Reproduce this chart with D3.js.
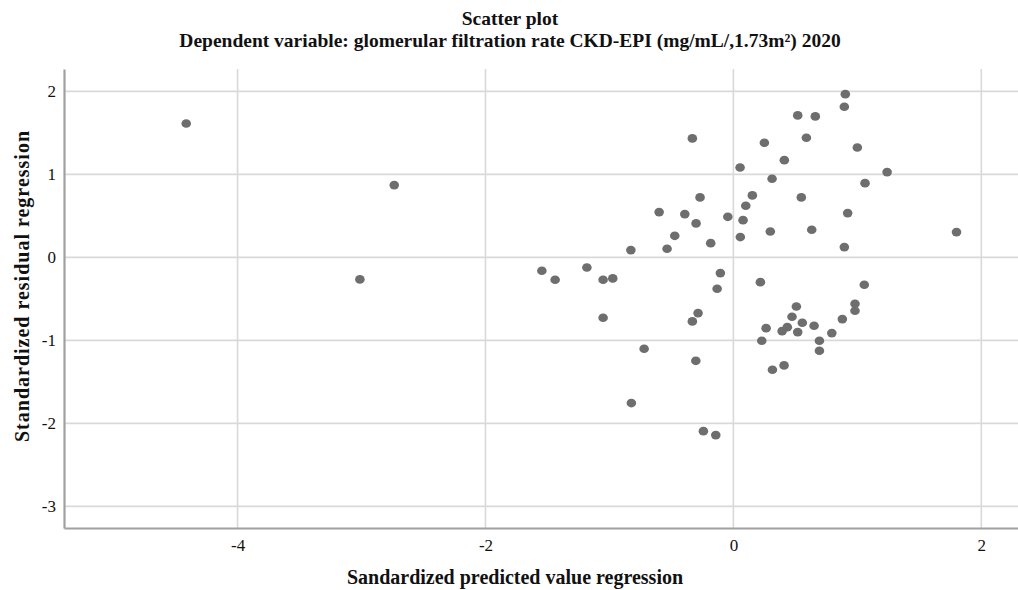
<!DOCTYPE html>
<html>
<head>
<meta charset="utf-8">
<script src="https://cdn.jsdelivr.net/npm/d3@7"></script>
<style>
  body { margin: 0; background: #fff; }
  text { font-family: "Liberation Serif", "DejaVu Serif", serif; fill: #111; }
</style>
</head>
<body>
<svg id="chart" width="1018" height="590"></svg>
<script>
// standardized predicted value (x) and standardized residual (y)
var predicted = [
  0.903, 0.895, 0.519, 0.661, -0.331, 0.250, 0.589, 1.000, 0.411, 0.054,
  1.240, 0.312, 1.062, -0.269, 0.548, 0.153, 0.100, -0.599, -0.392, 0.922,
  -0.045, 0.078, -0.301, -0.473, 0.056, 0.298, 0.632, -0.183, 0.895, -0.827,
  -0.535, 1.800,
  -1.545, -1.438, -1.182, -1.051, -0.973, -0.105, -0.131, 0.218, 1.056, -1.051,
  -0.285, -0.331, 0.508, 0.473, 0.981, 0.981, 0.879, 0.264, 0.393, 0.435,
  0.556, 0.519, 0.651, 0.794, 0.229, 0.694, 0.694, -0.720, -0.303, 0.315,
  0.409, -0.823, -0.242, -0.142,
  -4.414, -2.736, -3.013
];
var residual = [
  1.967, 1.815, 1.711, 1.699, 1.434, 1.381, 1.441, 1.325, 1.172, 1.084,
  1.028, 0.947, 0.895, 0.723, 0.723, 0.747, 0.622, 0.546, 0.522, 0.534,
  0.489, 0.449, 0.410, 0.260, 0.245, 0.313, 0.333, 0.172, 0.124, 0.088,
  0.104, 0.305,
  -0.161, -0.270, -0.121, -0.270, -0.253, -0.189, -0.378, -0.298, -0.330, -0.727,
  -0.671, -0.771, -0.591, -0.715, -0.559, -0.643, -0.743, -0.852, -0.888, -0.840,
  -0.788, -0.900, -0.824, -0.912, -1.004, -1.004, -1.125, -1.101, -1.246, -1.354,
  -1.301, -1.755, -2.093, -2.141,
  1.614, 0.871, -0.265
];
var xTicks = [-4, -2, 0, 2];
var yTicks = [2, 1, 0, -1, -2, -3];

var titleLines = ['Scatter plot',
  'Dependent variable: glomerular filtration rate CKD-EPI (mg/mL/,1.73m\u00b2) 2020'];
var xTitle = 'Sandardized predicted value regression';
var yTitle = 'Standardized residual regression';

var svg = d3.select('#chart');
var mLeft = 64, mRight = 1018, mTop = 69, mBottom = 528;

var x = d3.scaleLinear().domain([-5.4, 2.296]).range([mLeft, mRight]);
var y = d3.scaleLinear().domain([2.27, -3.26]).range([mTop, mBottom]);

// grid
svg.append('g').selectAll('line').data(xTicks).enter().append('line')
  .attr('x1', function(d) { return x(d); }).attr('x2', function(d) { return x(d); })
  .attr('y1', mTop).attr('y2', mBottom)
  .attr('stroke', '#d9d9d9').attr('stroke-width', 1.6);
svg.append('g').selectAll('line').data(yTicks).enter().append('line')
  .attr('x1', mLeft).attr('x2', mRight)
  .attr('y1', function(d) { return y(d); }).attr('y2', function(d) { return y(d); })
  .attr('stroke', '#d9d9d9').attr('stroke-width', 1.6);

// axes
var xAxis = svg.append('g').attr('transform', 'translate(0,' + mBottom + ')')
  .call(d3.axisBottom(x).tickValues(xTicks).tickSize(0).tickPadding(11));
var yAxis = svg.append('g').attr('transform', 'translate(' + mLeft + ',0)')
  .call(d3.axisLeft(y).tickValues(yTicks).tickSize(0).tickPadding(8));
[xAxis, yAxis].forEach(function(a) {
  a.attr('font-family', '"Liberation Serif", serif').attr('font-size', 17);
  a.select('.domain').attr('stroke', '#a0a0a0').attr('stroke-width', 2.2);
  a.selectAll('text').attr('fill', '#111')
    .text(function(d) { return String(d); });
});

// points
svg.append('g').selectAll('ellipse').data(predicted).enter().append('ellipse')
  .attr('cx', function(d) { return x(d); })
  .attr('cy', function(d, i) { return y(residual[i]); })
  .attr('rx', 4.8).attr('ry', 4.3)
  .attr('fill', '#6e6e6e');

// titles
svg.selectAll('.title').data(titleLines).enter().append('text')
  .attr('class', 'title')
  .attr('x', 510).attr('y', function(d, i) { return 25 + i * 22; })
  .attr('text-anchor', 'middle')
  .style('font-size', '19.5px').style('font-weight', 'bold')
  .text(function(d) { return d; });

svg.append('text').attr('x', 515).attr('y', 584)
  .attr('text-anchor', 'middle')
  .style('font-size', '20px').style('font-weight', 'bold')
  .text(xTitle);

svg.append('text')
  .attr('transform', 'translate(29,286) rotate(-90)')
  .attr('text-anchor', 'middle')
  .style('font-size', '20px').style('font-weight', 'bold')
  .style('letter-spacing', '1px')
  .text(yTitle);
</script>
</body>
</html>
